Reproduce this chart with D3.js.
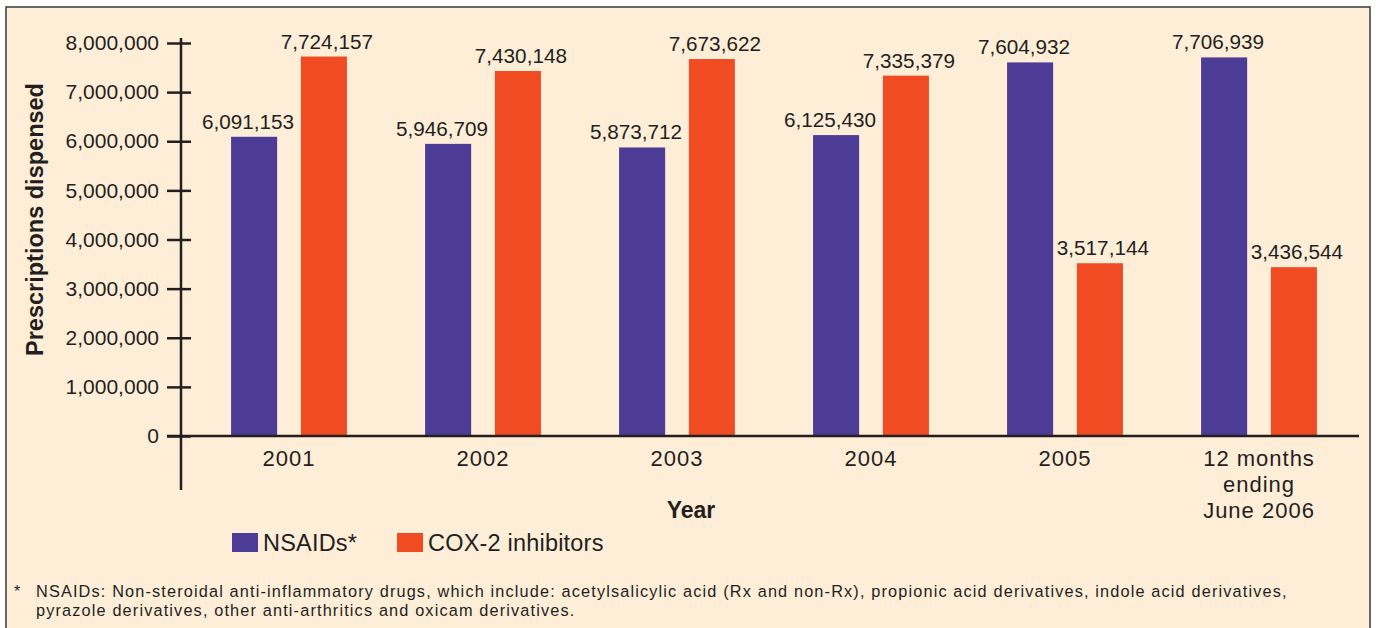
<!DOCTYPE html>
<html>
<head>
<meta charset="utf-8">
<script src="https://cdn.jsdelivr.net/npm/d3@7.9.0/dist/d3.min.js"></script>
<style>
  body { margin: 0; background: #fff; }
  svg { display: block; font-family: "Liberation Sans", Arial, Helvetica, sans-serif; }
  .tick text { fill: #231f20; }
</style>
</head>
<body>
<svg id="chart" width="1376" height="628"></svg>
<script>
const years = ['2001', '2002', '2003', '2004', '2005', '12 months\nending\nJune 2006'];
const seriesNames = ['NSAIDs*', 'COX-2 inhibitors'];
const nsaids = [6091153, 5946709, 5873712, 6125430, 7604932, 7706939];
const cox2 = [7724157, 7430148, 7673622, 7335379, 3517144, 3436544];
const yTicks = [0, 1000000, 2000000, 3000000, 4000000, 5000000, 6000000, 7000000, 8000000];
const footnote = [
  'NSAIDs: Non-steroidal anti-inflammatory drugs, which include: acetylsalicylic acid (Rx and non-Rx), propionic acid derivatives, indole acid derivatives,',
  'pyrazole derivatives, other anti-arthritics and oxicam derivatives.'
];

const colors = { 'NSAIDs*': '#4c3c95', 'COX-2 inhibitors': '#f04b23' };
const ink = '#231f20';

const rows = years.map((year, i) => ({
  year,
  values: [
    { key: seriesNames[0], value: nsaids[i] },
    { key: seriesNames[1], value: cox2[i] },
  ],
}));

const svg = d3.select('#chart');

// panel
svg.append('rect')
  .attr('x', 6).attr('y', 7)
  .attr('width', 1364).attr('height', 640)
  .attr('fill', '#feeed8')
  .attr('stroke', '#3a3a3a')
  .attr('stroke-width', 1.5);

const axisX = 181;

const x0 = d3.scaleBand()
  .domain(years)
  .range([192, 1356])
  .padding(0);

const x1 = d3.scaleBand()
  .domain(seriesNames)
  .range([0, x0.bandwidth()])
  .paddingInner(0.34)
  .paddingOuter(0.56);

const y = d3.scaleLinear()
  .domain([0, 8000000])
  .range([436, 43]);

// bars
const groups = svg.append('g').selectAll('g')
  .data(rows)
  .join('g')
  .attr('transform', d => `translate(${x0(d.year)},0)`);

groups.selectAll('rect')
  .data(d => d.values)
  .join('rect')
  .attr('x', d => x1(d.key))
  .attr('y', d => y(d.value))
  .attr('width', x1.bandwidth())
  .attr('height', d => y(0) - y(d.value))
  .attr('fill', d => colors[d.key]);

groups.selectAll('text')
  .data(d => d.values)
  .join('text')
  .attr('x', d => x1(d.key) + x1.bandwidth() / 2 + (d.key === seriesNames[0] ? -6 : 3))
  .attr('y', d => y(d.value) - 8)
  .attr('text-anchor', 'middle')
  .attr('font-size', 20.7)
  .attr('fill', ink)
  .text(d => d3.format(',')(d.value));

// y axis
const yAxis = svg.append('g')
  .attr('transform', `translate(${axisX},0)`)
  .call(d3.axisLeft(y)
    .tickValues(yTicks)
    .tickFormat(d3.format(','))
    .tickSize(14)
    .tickPadding(8));

yAxis.select('.domain').remove();
yAxis.selectAll('.tick line')
  .attr('x1', 10)
  .attr('stroke', ink)
  .attr('stroke-width', 2.5);
yAxis.selectAll('.tick text')
  .attr('font-size', 21)
  .attr('font-family', null);

yAxis.append('line')
  .attr('x1', 0).attr('x2', 0)
  .attr('y1', y(8000000) - 5).attr('y2', 490)
  .attr('stroke', ink)
  .attr('stroke-width', 2.5);

// x axis
const xAxis = svg.append('g')
  .attr('transform', `translate(0,${y(0)})`)
  .call(d3.axisBottom(x0).tickSize(0).tickPadding(14));

xAxis.select('.domain').remove();
xAxis.append('line')
  .attr('x1', axisX - 14).attr('x2', 1359)
  .attr('stroke', ink)
  .attr('stroke-width', 2.5);

xAxis.selectAll('.tick text')
  .attr('font-size', 22)
  .attr('letter-spacing', 1)
  .attr('font-family', null)
  .each(function (d) {
    const t = d3.select(this);
    const lines = d.split('\n');
    t.text(null);
    lines.forEach((ln, i) => {
      t.append('tspan')
        .attr('x', 0)
        .attr('dy', i === 0 ? '0.71em' : '1.2em')
        .text(ln);
    });
    t.attr('dy', null);
  });

// axis titles
svg.append('text')
  .attr('x', 691).attr('y', 518)
  .attr('text-anchor', 'middle')
  .attr('font-size', 23)
  .attr('font-weight', 'bold')
  .attr('fill', ink)
  .text('Year');

svg.append('text')
  .attr('transform', 'translate(43,219.5) rotate(-90)')
  .attr('text-anchor', 'middle')
  .attr('font-size', 23.5)
  .attr('font-weight', 'bold')
  .attr('fill', ink)
  .text('Prescriptions dispensed');

// legend
const legendX = [232, 397];
const legend = svg.append('g').selectAll('g')
  .data(seriesNames)
  .join('g')
  .attr('transform', (d, i) => `translate(${legendX[i]},533)`);

legend.append('rect')
  .attr('width', 26).attr('height', 19)
  .attr('fill', d => colors[d]);

legend.append('text')
  .attr('x', 31).attr('y', 17.5)
  .attr('font-size', 23.5)
  .attr('letter-spacing', 0.2)
  .attr('fill', ink)
  .text(d => d);

// footnote
svg.append('text')
  .attr('x', 14).attr('y', 597)
  .attr('font-size', 16)
  .attr('fill', ink)
  .text('*');

svg.append('g').selectAll('text')
  .data(footnote)
  .join('text')
  .attr('x', 36)
  .attr('y', (d, i) => 597 + i * 18.5)
  .attr('font-size', 16.3)
  .attr('letter-spacing', 1.15)
  .attr('fill', ink)
  .text(d => d);
</script>
</body>
</html>
